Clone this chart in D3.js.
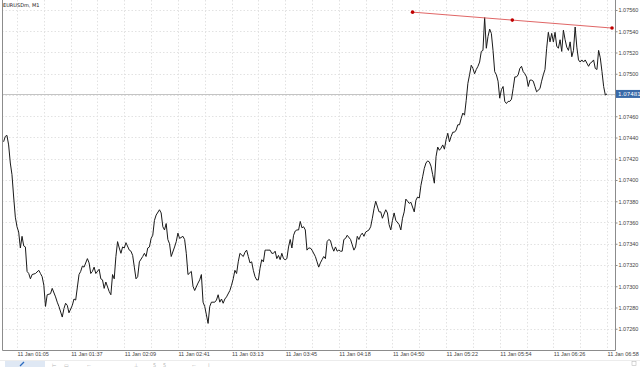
<!DOCTYPE html>
<html>
<head>
<meta charset="utf-8">
<script src="https://cdn.jsdelivr.net/npm/d3@7"></script>
<style>
body { margin: 0; background: #fff; overflow: hidden; }
svg { display: block; font-family: "DejaVu Sans", sans-serif; }
</style>
</head>
<body>
<div id="chart"></div>
<script>
// chart data (M1 closes)
const symbolTitle = "EURUSDm, M1";

const bars = [0,1,2,3,4,5,6,7,8,9,10,11,12,13,14,15,16,17,19,21,22,23,24,25,26,28,29,31,32,33,35,36,37,38,39,41,42,43,45,46,47,48,50,51,52,53,54,55,57,58,59,60,61,63,64,65,66,67,68,69,70,71,72,73,75,76,77,78,79,80,81,83,84,85,86,87,88,89,90,91,93,94,95,96,97,98,99,100,102,103,104,105,107,108,109,110,112,113,114,116,117,118,119,120,121,122,123,124,126,127,128,129,130,131,132,133,135,136,137,138,139,140,141,143,144,145,146,147,148,149,150,151,152,153,154,155,156,157,159,160,161,162,163,164,165,166,167,168,169,170,171,172,173,174,175,176,177,178,179,180,181,182,183,184,186,187,188,189,190,191,192,193,194,195,196,197,198,199,200,201,202,203,204,205,207,208,209,210,211,212,213,214,215,216,218,219,220,221,222,224,225,226,228,229,230,231,232,233,234,236,237,238,239,240,241,242,243,245,246,247,248,249,250,251,252,253,254,255,256,257,258,259,260,261,262,263,264,265,266,267,268,269,270,271,272,273,274,275,276,277,278,279,280,281,282,283,284,285,286,287,288,289,290,291,292,293,294,295,296,297,298,299,300,301,302,303,304,305,306,307,308,309,310,311,312,313,314,315,316,317,318,320,321,322,323,324,325,326,327,328,329,330,331,332,333,334,335,336,337,338,339,340,341,342,343,344,345,346,347,348,349,350,351,352,353,354,355,356,357,358,359,360];

const closes = [1.07436,1.07441,1.07442,1.07433,1.07416,1.07405,1.07384,1.07365,1.07356,1.07351,1.07336,1.07347,1.07338,1.07337,1.07314,1.07312,1.07307,1.07311,1.07312,1.07315,1.07312,1.07309,1.07301,1.07281,1.07292,1.07293,1.07298,1.07290,1.07285,1.07281,1.07271,1.07279,1.07284,1.07282,1.07275,1.07282,1.07288,1.07287,1.07311,1.07314,1.07319,1.07318,1.07326,1.07322,1.07312,1.07314,1.07318,1.07312,1.07316,1.07307,1.07306,1.07298,1.07304,1.07295,1.07292,1.07311,1.07307,1.07328,1.07342,1.07336,1.07331,1.07337,1.07336,1.07341,1.07334,1.07333,1.07329,1.07318,1.07307,1.07309,1.07323,1.07328,1.07331,1.07328,1.07336,1.07337,1.07345,1.07348,1.07362,1.07367,1.07372,1.07369,1.07356,1.07353,1.07359,1.07344,1.07340,1.07328,1.07337,1.07342,1.07350,1.07345,1.07347,1.07344,1.07331,1.07311,1.07314,1.07300,1.07296,1.07303,1.07306,1.07311,1.07285,1.07281,1.07273,1.07265,1.07281,1.07285,1.07285,1.07287,1.07292,1.07285,1.07288,1.07284,1.07288,1.07290,1.07296,1.07301,1.07307,1.07315,1.07312,1.07323,1.07331,1.07328,1.07332,1.07334,1.07328,1.07322,1.07323,1.07315,1.07309,1.07306,1.07306,1.07317,1.07325,1.07323,1.07334,1.07334,1.07334,1.07331,1.07331,1.07333,1.07326,1.07329,1.07325,1.07331,1.07326,1.07325,1.07326,1.07337,1.07344,1.07336,1.07348,1.07352,1.07353,1.07353,1.07361,1.07355,1.07356,1.07353,1.07334,1.07336,1.07336,1.07334,1.07328,1.07323,1.07318,1.07322,1.07325,1.07328,1.07326,1.07342,1.07344,1.07343,1.07337,1.07333,1.07337,1.07333,1.07334,1.07333,1.07333,1.07344,1.07345,1.07348,1.07344,1.07339,1.07334,1.07337,1.07347,1.07344,1.07348,1.07350,1.07347,1.07351,1.07353,1.07356,1.07364,1.07373,1.07380,1.07370,1.07370,1.07364,1.07372,1.07369,1.07358,1.07353,1.07362,1.07369,1.07362,1.07358,1.07353,1.07364,1.07370,1.07382,1.07380,1.07378,1.07379,1.07370,1.07381,1.07384,1.07383,1.07395,1.07403,1.07411,1.07416,1.07418,1.07417,1.07413,1.07405,1.07397,1.07422,1.07431,1.07428,1.07430,1.07433,1.07429,1.07438,1.07444,1.07436,1.07441,1.07445,1.07445,1.07447,1.07452,1.07452,1.07458,1.07463,1.07461,1.07475,1.07491,1.07499,1.07508,1.07505,1.07500,1.07504,1.07507,1.07511,1.07521,1.07522,1.07553,1.07524,1.07535,1.07542,1.07538,1.07522,1.07502,1.07499,1.07493,1.07477,1.07485,1.07488,1.07474,1.07472,1.07474,1.07474,1.07476,1.07486,1.07497,1.07497,1.07499,1.07505,1.07507,1.07502,1.07500,1.07497,1.07488,1.07494,1.07494,1.07493,1.07488,1.07483,1.07486,1.07493,1.07499,1.07504,1.07524,1.07539,1.07530,1.07538,1.07530,1.07539,1.07526,1.07524,1.07532,1.07521,1.07541,1.07532,1.07525,1.07522,1.07530,1.07516,1.07522,1.07544,1.07525,1.07513,1.07511,1.07513,1.07511,1.07513,1.07510,1.07507,1.07510,1.07511,1.07513,1.07505,1.07504,1.07522,1.07515,1.07502,1.07488,1.07480,1.07481];

const timeLabels = ["11 Jan 01:05","11 Jan 01:37","11 Jan 02:09","11 Jan 02:41","11 Jan 03:13","11 Jan 03:45","11 Jan 04:18","11 Jan 04:50","11 Jan 05:22","11 Jan 05:54","11 Jan 06:26","11 Jan 06:58"];
const labelBars = [8,40,72,104,136,168,200,232,264,296,328,360];

const priceTicks = [1.0726,1.0728,1.0730,1.0732,1.0734,1.0736,1.0738,1.0740,1.0742,1.0744,1.0746,1.0748,1.0750,1.0752,1.0754,1.0756];
const lastPrice = 1.07481;

// trend line anchors
const trendBars = [244, 363];
const trendPrices = [1.07558, 1.07543];

let width = 640;
let height = 367;
let plot = { left: 2, right: 615, top: 0, bottom: 350 };

let svg = d3.select("#chart")
    .append("svg")
    .attr("width", width)
    .attr("height", height);

let x = d3.scaleLinear()
    .domain([0, 360])
    .range([3.6, 607]);

let y = d3.scaleLinear()
    .domain([1.0726, 1.0756])
    .range([328.75, 10]);

// grid
let grid = svg.append("g")
    .attr("stroke", "#e2e2e2")
    .attr("stroke-dasharray", "1.5,2");

grid.selectAll(".vg")
    .data(d3.range(8, 361, 16))
    .enter()
    .append("line")
    .attr("x1", d => Math.round(x(d)) + 0.5)
    .attr("x2", d => Math.round(x(d)) + 0.5)
    .attr("y1", plot.top)
    .attr("y2", plot.bottom);

grid.selectAll(".hg")
    .data(priceTicks)
    .enter()
    .append("line")
    .attr("x1", plot.left)
    .attr("x2", plot.right)
    .attr("y1", d => Math.round(y(d)) + 0.5)
    .attr("y2", d => Math.round(y(d)) + 0.5);

// last price line
svg.append("line")
    .attr("x1", plot.left)
    .attr("x2", plot.right)
    .attr("y1", Math.round(y(lastPrice)) + 0.5)
    .attr("y2", Math.round(y(lastPrice)) + 0.5)
    .attr("stroke", "#c4c4c4");

// price line
let data = bars.map((b, i) => ({ bar: b, close: closes[i] }));

let line = d3.line()
    .x(d => x(d.bar))
    .y(d => y(d.close));

svg.append("path")
    .datum(data)
    .attr("d", line)
    .attr("fill", "none")
    .attr("stroke", "#1a1a1a")
    .attr("stroke-width", 1);

// trend line
let trend = trendBars.map((b, i) => ({ bar: b, close: trendPrices[i] }));
svg.append("path")
    .datum(trend)
    .attr("d", line)
    .attr("fill", "none")
    .attr("stroke", "#e06666")
    .attr("stroke-width", 1);

let trendDots = [trend[0],
    { bar: (trend[0].bar + trend[1].bar) / 2, close: (trend[0].close + trend[1].close) / 2 },
    trend[1]];

svg.selectAll(".tdot")
    .data(trendDots)
    .enter()
    .append("circle")
    .attr("cx", d => x(d.bar))
    .attr("cy", d => y(d.close))
    .attr("r", 1.8)
    .attr("fill", "#c00000");

// frame
svg.append("path")
    .attr("d", `M${plot.left + 0.5},${plot.top} V${plot.bottom + 0.5} H${plot.right + 0.5} V${plot.top}`)
    .attr("fill", "none")
    .attr("stroke", "#8c8c8c");

// right price axis (the label under the price tag is hidden, as in the terminal)
let visibleTicks = priceTicks.filter(d => Math.abs(y(d) - y(lastPrice)) > 6);

let yAxis = svg.append("g")
    .attr("transform", "translate(" + (plot.right + 0.5) + ",0)")
    .call(d3.axisRight(y)
        .tickValues(visibleTicks)
        .tickFormat(d3.format(".5f"))
        .tickSize(2)
        .tickPadding(1)
        .tickSizeOuter(0));
yAxis.select(".domain").remove();
yAxis.selectAll("line").attr("stroke", "#8c8c8c");
yAxis.selectAll("text")
    .style("font-size", "5.5px")
    .attr("fill", "#444");

// time axis
let xAxis = svg.append("g")
    .attr("transform", "translate(0," + (plot.bottom + 0.5) + ")")
    .call(d3.axisBottom(x)
        .tickValues(labelBars)
        .tickFormat((d, i) => timeLabels[i])
        .tickSize(0)
        .tickPadding(1.5));
xAxis.select(".domain").remove();
xAxis.selectAll("text")
    .attr("text-anchor", "start")
    .style("font-size", "5.5px")
    .attr("fill", "#444");

// last price tag
svg.append("rect")
    .attr("x", plot.right + 1)
    .attr("y", y(lastPrice) - 4)
    .attr("width", width - plot.right - 1)
    .attr("height", 8)
    .attr("fill", "#3a6aa8");

svg.append("text")
    .attr("x", plot.right + 3)
    .attr("y", y(lastPrice))
    .attr("dy", "0.35em")
    .style("font-size", "5.5px")
    .attr("fill", "#fff")
    .text(d3.format(".5f")(lastPrice));

// title
svg.append("text")
    .attr("x", 3)
    .attr("y", 6.5)
    .style("font-size", "5px")
    .attr("fill", "#222")
    .text(symbolTitle);

// bottom tab strip
svg.append("line")
    .attr("x1", 0)
    .attr("x2", width)
    .attr("y1", 360.5)
    .attr("y2", 360.5)
    .attr("stroke", "#ececec");

svg.append("rect")
    .attr("x", 5)
    .attr("y", 361)
    .attr("width", 40)
    .attr("height", 6)
    .attr("fill", "#dfe8f4");

svg.append("path")
    .attr("d", "M20,366 L24,362")
    .attr("stroke", "#2d6cc0")
    .attr("stroke-width", 1.2);

let stripMarks = [[52, "⊢"], [64, "▭"], [87, "⌐"], [134, "⊥"], [153, "5"], [163, "5"], [192, "⌐"], [208, "|"]];
svg.selectAll(".strip")
    .data(stripMarks)
    .enter()
    .append("text")
    .attr("x", d => d[0])
    .attr("y", 367)
    .style("font-size", "5px")
    .attr("fill", "#b5b5b5")
    .text(d => d[1]);

svg.append("rect")
    .attr("x", 632)
    .attr("y", 361.5)
    .attr("width", 4)
    .attr("height", 4)
    .attr("fill", "none")
    .attr("stroke", "#bbb")
    .attr("stroke-width", 0.6);
</script>
</body>
</html>
